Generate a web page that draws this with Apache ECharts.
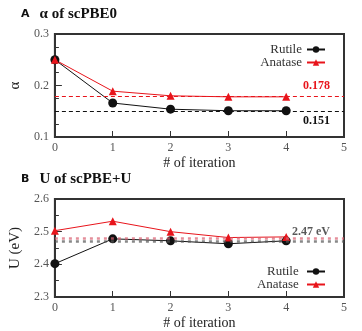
<!DOCTYPE html>
<html>
<head>
<meta charset="utf-8">
<script src="https://cdn.jsdelivr.net/npm/echarts@6/dist/echarts.min.js"></script>
<style>
  html, body { margin: 0; padding: 0; background: #fff; }
  #chart { width: 362px; height: 331px; }
</style>
</head>
<body>
<div id="chart"></div>
<script>
    // iteration index
    var iterations = [0, 1, 2, 3, 4];
    // panel A: alpha of scPBE0
    var alphaRutile = [0.250, 0.166, 0.154, 0.151, 0.151];
    var alphaAnatase = [0.250, 0.189, 0.180, 0.178, 0.178];
    var alphaRefRutile = 0.151;
    var alphaRefAnatase = 0.1775;
    // panel B: U of scPBE+U
    var uRutile = [2.402, 2.478, 2.472, 2.463, 2.472];
    var uAnatase = [2.503, 2.532, 2.500, 2.482, 2.484];
    var uRefRutile = 2.474;
    var uRefAnatase = 2.477;

    var serif = 'Liberation Serif';
    var frame = '#333';

    function pairs(ys) {
        return iterations.map(function (x, i) { return [x, ys[i]]; });
    }

    function xAxisFor(idx) {
        return {
            type: 'value', gridIndex: idx, min: 0, max: 5, interval: 1,
            name: '# of iteration', nameLocation: 'middle', nameGap: 19,
            nameTextStyle: { fontFamily: serif, fontSize: 14, color: '#222' },
            axisLine: { show: true, onZero: false, lineStyle: { color: frame, width: 2 } },
            axisTick: { show: true, inside: true, length: 6, lineStyle: { color: frame } },
            axisLabel: { fontFamily: serif, fontSize: 12, color: '#555', margin: 5 },
            splitLine: { show: false }
        };
    }

    function yAxisFor(idx, min, max, name, minorSplit, fmt) {
        return {
            type: 'value', gridIndex: idx, min: min, max: max, interval: 0.1,
            name: name, nameLocation: 'middle', nameGap: 30,
            nameTextStyle: { fontFamily: serif, fontSize: 15, color: '#222' },
            axisLine: { show: true, lineStyle: { color: frame, width: 2 } },
            axisTick: { show: true, inside: true, length: 7, lineStyle: { color: frame } },
            minorTick: { show: true, splitNumber: minorSplit, length: 4, lineStyle: { color: frame } },
            axisLabel: { fontFamily: serif, fontSize: 12, color: '#555', margin: 6, formatter: fmt },
            splitLine: { show: false }
        };
    }

    function refLine(value, color, dash, width, text, pos, opacity, textColor) {
        return {
            silent: true, symbol: 'none',
            lineStyle: { color: color, type: dash, width: width, opacity: opacity },
            label: {
                show: !!text, formatter: text, position: pos, distance: [14, 4],
                fontFamily: serif, fontWeight: 'bold', fontSize: 12, color: textColor || color
            },
            data: [{ yAxis: value }]
        };
    }

    function lineSeries(name, idx, data, color, symbol, size, mark) {
        return {
            name: name, type: 'line', xAxisIndex: idx, yAxisIndex: idx,
            data: pairs(data), symbol: symbol, symbolSize: size,
            lineStyle: { color: color, width: 1 },
            itemStyle: { color: color },
            markLine: mark,
            z: 3
        };
    }

    var titleRich = {
        a: { fontFamily: 'DejaVu Sans', fontWeight: 'bold', fontSize: 11, color: '#111' },
        b: { fontFamily: serif, fontWeight: 'bold', fontSize: 15, color: '#111' }
    };

    var legendText = { fontFamily: serif, fontSize: 13, lineHeight: 12, color: '#333' };

    var chart = echarts.init(document.getElementById('chart'));
    var option = {
        animation: false,
        title: [{
            left: 16, top: 0,
            text: '{a|A}  {b|\u03b1 of scPBE0}',
            textStyle: { rich: titleRich }
        }, {
            left: 16, top: 165,
            text: '{a|B}  {b|U of scPBE+U}',
            textStyle: { rich: titleRich }
        }],
        legend: [{
            data: ['Rutile', 'Anatase'], orient: 'vertical', align: 'right',
            right: 36, top: 43, padding: 0, itemWidth: 18, itemHeight: 8, itemGap: 0,
            textStyle: legendText
        }, {
            data: ['Rutile ', 'Anatase '], orient: 'vertical', align: 'right',
            right: 36, top: 265, padding: 0, itemWidth: 18, itemHeight: 8, itemGap: 0,
            textStyle: legendText
        }],
        grid: [
            { left: 52, top: 34, width: 292, height: 103, show: true, borderColor: frame, borderWidth: 2 },
            { left: 52, top: 199, width: 292, height: 103, show: true, borderColor: frame, borderWidth: 2 }
        ],
        xAxis: [xAxisFor(0), xAxisFor(1)],
        yAxis: [
            yAxisFor(0, 0.1, 0.3, '\u03b1', 4, function (v) { return v.toFixed(1); }),
            yAxisFor(1, 2.3, 2.6, 'U (eV)', 2, function (v) { return v.toFixed(1); })
        ],
        series: [
            lineSeries('Rutile', 0, alphaRutile, '#111', 'circle', 9,
                refLine(alphaRefRutile, '#111', [4, 3], 1, '0.151', 'insideEndBottom', 1)),
            lineSeries('Anatase', 0, alphaAnatase, '#e8141b', 'triangle', 8,
                refLine(alphaRefAnatase, '#e8141b', [4, 3], 1, '0.178', 'insideEndTop', 1)),
            lineSeries('Rutile ', 1, uRutile, '#111', 'circle', 9,
                refLine(uRefRutile, '#555', [3, 4], 2.5, '2.47 eV', 'insideEndTop', 0.7, '#111')),
            lineSeries('Anatase ', 1, uAnatase, '#e8141b', 'triangle', 8,
                refLine(uRefAnatase, '#d86070', [3, 4], 2.5, '', 'insideEndTop', 0.7))
        ]
    };
    chart.setOption(option);
</script>
</body>
</html>
